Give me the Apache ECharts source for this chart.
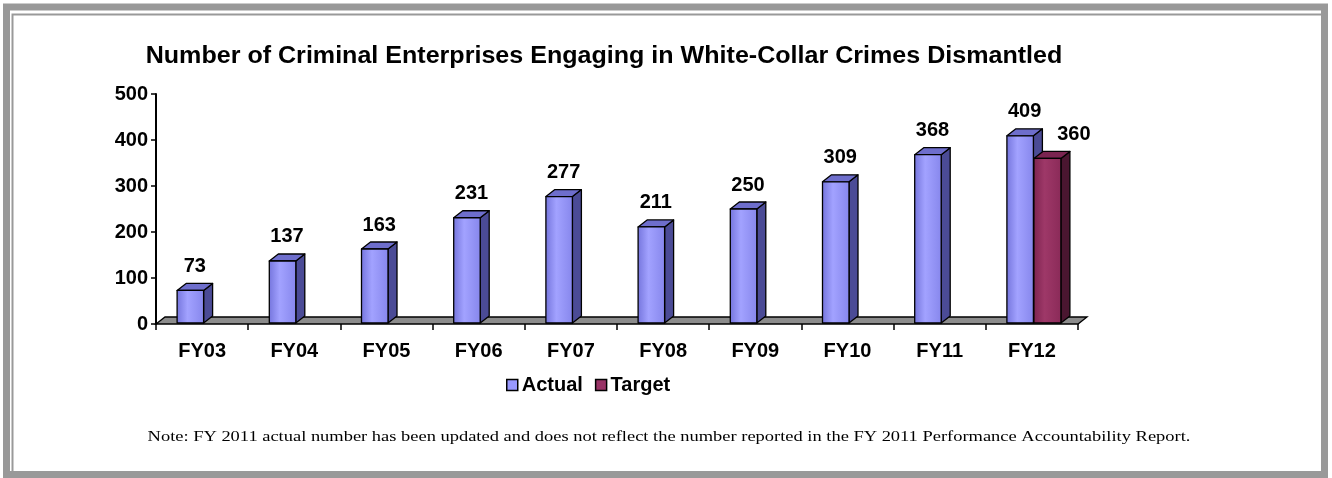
<!DOCTYPE html>
<html>
<head>
<meta charset="utf-8">
<script src="https://cdn.jsdelivr.net/npm/echarts@6/dist/echarts.min.js"></script>
<style>
html,body{margin:0;padding:0;background:#fff;}
#chart{width:1332px;height:478px;}
</style>
</head>
<body>
<div id="chart"></div>
<script>
var categories = ['FY03','FY04','FY05','FY06','FY07','FY08','FY09','FY10','FY11','FY12'];
var actualValues = [73,137,163,231,277,211,250,309,368,409];
var targetValues = [null,null,null,null,null,null,null,null,null,360];
var yTicks = [0,100,200,300,400,500];
var titleText = 'Number of Criminal Enterprises Engaging in White-Collar Crimes Dismantled';
var noteText = 'Note: FY 2011 actual number has been updated and does not reflect the number reported in the FY 2011 Performance Accountability Report.';

var DX = 9, DY = -7;

function toData(arr){
  var out = [];
  arr.forEach(function(v,i){ if (v !== null) out.push([i, v]); });
  return out;
}

function makeBarRender(offsetLeft, width, colors, labelDx){
  return function(params, api){
    var idx = api.value(0), val = api.value(1);
    var p0 = api.coord([idx, 0]);
    var p1 = api.coord([idx, val]);
    var L = p0[0] + offsetLeft, R = L + width;
    var base = p0[1] - 1, top = p1[1];
    var stroke = {stroke:'#000', lineWidth:1.3, lineJoin:'round'};
    return {
      type:'group',
      children:[
        {type:'polygon', shape:{points:[[R,top],[R+DX,top+DY],[R+DX,base+DY],[R,base]]},
          style:Object.assign({fill:colors.side}, stroke)},
        {type:'polygon', shape:{points:[[L,top],[L+DX,top+DY],[R+DX,top+DY],[R,top]]},
          style:Object.assign({fill:colors.top}, stroke)},
        {type:'rect', shape:{x:L, y:top, width:width, height:base-top},
          style:Object.assign({fill:{type:'linear',x:0,y:0,x2:1,y2:0,colorStops:colors.front}}, stroke)},
        {type:'text', x:(L+R+DX)/2 + labelDx, y:top+DY-17,
          style:{text:String(val), fill:'#000', font:'bold 20px "Liberation Sans", Arial, sans-serif', align:'center', verticalAlign:'middle'}}
      ]
    };
  };
}

var actualColors = {
  side:'#4b4b96', top:'#6e6ecc',
  front:[{offset:0,color:'#7474dc'},{offset:0.4,color:'#a2a2ff'},{offset:1,color:'#8686ec'}]
};
var targetColors = {
  side:'#4a1630', top:'#7a2450',
  front:[{offset:0,color:'#7d2450'},{offset:0.4,color:'#9e3868'},{offset:1,color:'#8a2a58'}]
};

var chart = echarts.init(document.getElementById('chart'), null, {renderer:'canvas'});
var option = {
  animation:false,
  backgroundColor:'#fff',
  grid:{left:156, top:94, width:922, height:230},
  legend:{
    left:501, top:370, itemWidth:11, itemHeight:11, itemGap:12,
    icon:'rect',
    textStyle:{fontFamily:'"Liberation Sans", Arial, sans-serif', fontWeight:'bold', fontSize:20, color:'#000', padding:[0,0,0,-1]},
    data:[
      {name:'Actual', itemStyle:{color:'#9999ff', borderColor:'#000', borderWidth:1.5}},
      {name:'Target', itemStyle:{color:'#993366', borderColor:'#000', borderWidth:1.5}}
    ]
  },
  xAxis:{
    type:'category', data:categories, boundaryGap:true,
    axisLine:{show:false},
    axisTick:{show:true, length:6, lineStyle:{color:'#000', width:1.5}},
    axisLabel:{fontFamily:'"Liberation Sans", Arial, sans-serif', fontWeight:'bold', fontSize:20, color:'#000', margin:17}
  },
  yAxis:{
    type:'value', min:0, max:500, interval:100,
    splitLine:{show:false},
    axisLine:{show:true, lineStyle:{color:'#000', width:2}},
    axisTick:{show:true, length:5, lineStyle:{color:'#000', width:1.5}},
    axisLabel:{fontFamily:'"Liberation Sans", Arial, sans-serif', fontWeight:'bold', fontSize:20, color:'#000', margin:8}
  },
  series:[
    {
      name:'Floor', type:'custom', silent:true, z:1,
      data:[[0,0]],
      renderItem:function(params, api){
        var cs = params.coordSys;
        var fy = cs.y + cs.height;
        var x0 = cs.x, x1 = cs.x + cs.width;
        return {type:'polygon', shape:{points:[[x0,fy],[x0+DX,fy+DY],[x1+DX,fy+DY],[x1,fy]]},
          style:{fill:'#8c8c8c', stroke:'#000', lineWidth:1.3}};
      }
    },
    {
      name:'Actual', type:'custom', z:3,
      itemStyle:{color:'#9999ff'},
      data:toData(actualValues), encode:{x:0,y:1},
      renderItem:makeBarRender(-25, 26.5, actualColors, 0)
    },
    {
      name:'Target', type:'custom', z:3,
      itemStyle:{color:'#993366'},
      data:toData(targetValues), encode:{x:0,y:1},
      renderItem:makeBarRender(2, 27, targetColors, 22)
    }
  ],
  graphic:[
    {type:'rect', z:-1, shape:{x:6.5, y:7, width:1318, height:467.5}, style:{fill:'none', stroke:'#999', lineWidth:7}},
    {type:'rect', z:-1, shape:{x:12.5, y:14.5, width:1311, height:458}, style:{fill:'none', stroke:'#999', lineWidth:2}},
    {type:'text', x:604, y:57, z:10, scaleX:1.09,
      style:{text:titleText, font:'bold 23px "Liberation Sans", Arial, sans-serif', fill:'#000', align:'center', verticalAlign:'middle'}},
    {type:'text', x:669, y:437, z:10, scaleX:1.23,
      style:{text:noteText, font:'15px "Liberation Serif", "Times New Roman", serif', fill:'#000', align:'center', verticalAlign:'middle'}}
  ]
};
chart.setOption(option);
</script>
</body>
</html>
